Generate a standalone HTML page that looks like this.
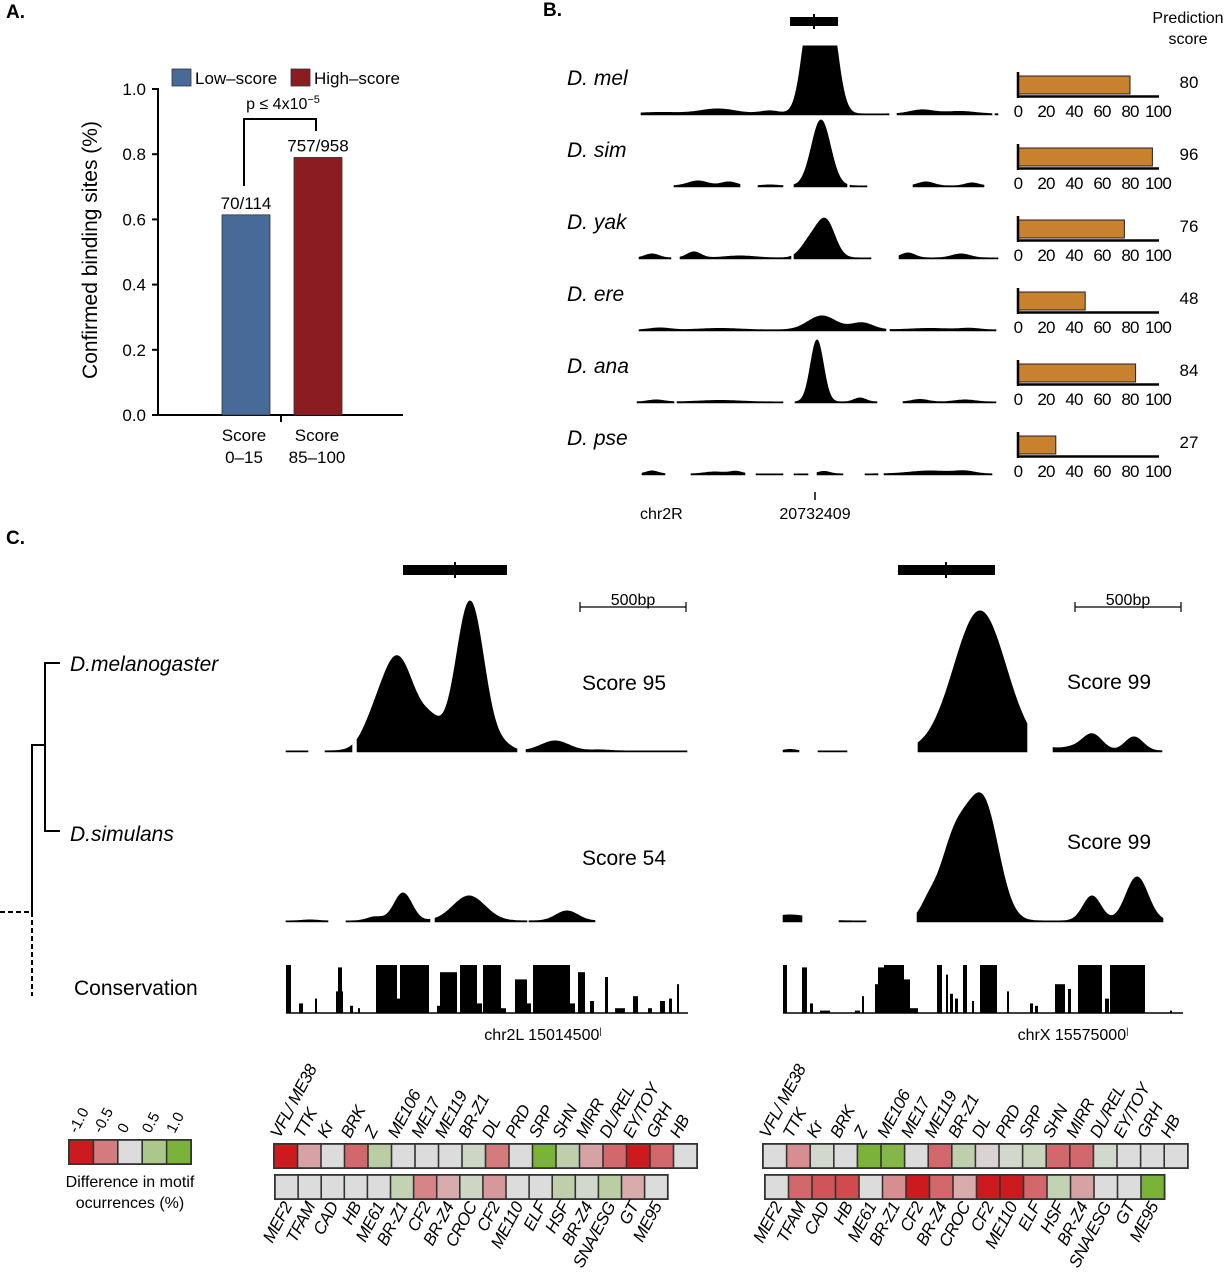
<!DOCTYPE html>
<html><head><meta charset="utf-8"><style>
html,body{margin:0;padding:0;background:#fff;}
svg{display:block;font-family:"Liberation Sans",Arial,sans-serif;}
</style></head><body>
<svg id="fig" width="1228" height="1280" viewBox="0 0 1228 1280" xmlns="http://www.w3.org/2000/svg">
<text x="6" y="18" font-size="19" font-weight="bold">A.</text>
<text x="543" y="16" font-size="19" font-weight="bold">B.</text>
<text x="6" y="544" font-size="19" font-weight="bold">C.</text>

<g id="panelA">
<line x1="158" y1="88" x2="158" y2="416" stroke="#000" stroke-width="2"/>
<line x1="157" y1="415" x2="403" y2="415" stroke="#000" stroke-width="2"/>
<line x1="281" y1="415" x2="281" y2="422" stroke="#000" stroke-width="2"/>
<text transform="translate(97,250) rotate(-90)" text-anchor="middle" font-size="21">Confirmed binding sites (%)</text>
<rect x="172" y="69" width="19" height="17" fill="#476a98" stroke="#333" stroke-width="0.8"/>
<text x="195" y="84" font-size="17">Low–score</text>
<rect x="291" y="69" width="19" height="17" fill="#8b1c22" stroke="#333" stroke-width="0.8"/>
<text x="314" y="84" font-size="17">High–score</text>
<text x="283" y="109" text-anchor="middle" font-size="16">p ≤ 4x10<tspan dy="-6" font-size="11">−5</tspan></text>
<path d="M244,186 V119 H316 V131" fill="none" stroke="#000" stroke-width="2"/>
<text x="244" y="441" text-anchor="middle" font-size="17">Score</text>
<text x="244" y="463" text-anchor="middle" font-size="17">0–15</text>
<text x="317" y="441" text-anchor="middle" font-size="17">Score</text>
<text x="317" y="463" text-anchor="middle" font-size="17">85–100</text>
</g>

<rect x="790" y="17" width="48" height="9" fill="#000"/>
<line x1="814" y1="14" x2="814" y2="29" stroke="#000" stroke-width="2"/>
<text x="1188" y="23" text-anchor="middle" font-size="16">Prediction</text>
<text x="1188" y="44" text-anchor="middle" font-size="16">score</text>
<line x1="815" y1="492" x2="815" y2="500" stroke="#000" stroke-width="1.5"/>
<text x="640" y="519" font-size="16">chr2R</text>
<text x="815" y="519" text-anchor="middle" font-size="16">20732409</text>

<rect x="403" y="565" width="104" height="10" fill="#000"/>
<line x1="455" y1="562" x2="455" y2="578" stroke="#000" stroke-width="2"/>
<rect x="898" y="565" width="97" height="10" fill="#000"/>
<line x1="946" y1="562" x2="946" y2="578" stroke="#000" stroke-width="2"/>
<g>
<path d="M580,607 H686 M580,602 V612 M686,602 V612" stroke="#000" stroke-width="1.2" fill="none"/>
<text x="633" y="605" text-anchor="middle" font-size="16">500bp</text></g>
<g>
<path d="M1075,607 H1181 M1075,602 V612 M1181,602 V612" stroke="#000" stroke-width="1.2" fill="none"/>
<text x="1128" y="605" text-anchor="middle" font-size="16">500bp</text></g>
<text x="624" y="690" text-anchor="middle" font-size="21">Score 95</text>
<text x="624" y="865" text-anchor="middle" font-size="21">Score 54</text>
<text x="1109" y="689" text-anchor="middle" font-size="21">Score 99</text>
<text x="1109" y="849" text-anchor="middle" font-size="21">Score 99</text>
<text x="543" y="1040" text-anchor="middle" font-size="16">chr2L 15014500<tspan dy="-6" font-size="9">|</tspan></text>
<text x="1073" y="1040" text-anchor="middle" font-size="16">chrX 15575000<tspan dy="-6" font-size="9">|</tspan></text>
<g stroke="#000" stroke-width="2" fill="none">
<path d="M60,663 H45 V831 H60"/>
<path d="M45,745 H32 V912"/>
<path d="M32,912 V996 M0,912 H32" stroke-dasharray="5,3"/>
</g>
<text x="70" y="671" font-size="21" font-style="italic">D.melanogaster</text>
<text x="70" y="841" font-size="21" font-style="italic">D.simulans</text>
<text x="74" y="995" font-size="21">Conservation</text>
<text x="130" y="1187" text-anchor="middle" font-size="16">Difference in motif</text>
<text x="130" y="1208" text-anchor="middle" font-size="16">ocurrences (%)</text>
<g id="dyn"></g>
</svg>
<script>
const barCategories = ['Score 0–15', 'Score 85–100'];
const barValues = [0.614, 0.790];
const barCounts = ['70/114', '757/958'];
const yTicks = [0.0, 0.2, 0.4, 0.6, 0.8, 1.0];
const barColors = ['#476a98', '#8b1c22'];

const speciesB = ['D. mel', 'D. sim', 'D. yak', 'D. ere', 'D. ana', 'D. pse'];
const predictionScores = [80, 96, 76, 48, 84, 27];
const scoreTicks = [0, 20, 40, 60, 80, 100];
const segMel = [[641,889],[897,992],[995,998]];
const segSim = [[674,740],[758,783],[794,847],[850,867],[913,984]];
const segYak = [[639,671],[680,791],[794,871],[899,998]];
const segEre = [[639,886],[890,996]];
const segAna = [[637,674],[677,783],[795,877],[903,996]];
const segPse = [[642,665],[691,745],[756,783],[794,808],[817,843],[865,878],[884,992]];
const pkMel = [[812,110,9],[828,110,9],[660,1.5,20],[718,5,18],[770,3,10],[922,4,12],[960,2.5,15]];
const pkSim = [[821,66,9.5],[698,5,10],[729,4,8],[770,1,8],[926,4,8],[972,3,7]];
const pkYak = [[826,36,9],[810,16,9],[652,4,7],[694,6,7],[740,2,15],[908,5,7],[961,4,9]];
const pkEre = [[822,14,14],[862,7,11],[660,2,10],[720,1.5,20],[930,1.5,20],[970,1.5,10]];
const pkAna = [[817,62,6.5],[860,4,6],[656,2,8],[720,1.5,20],[920,2.5,8],[965,2,10]];
const pkPse = [[652,3,6],[715,2,10],[736,2.5,6],[824,2.5,6],[930,3,20],[965,2.5,10]];
const trackSegsB = [segMel, segSim, segYak, segEre, segAna, segPse];
const trackPeaksB = [pkMel, pkSim, pkYak, pkEre, pkAna, pkPse];

const segCML = [[286,308],[325,352],[357,517],[526,687]];
const pkCML = [[397,95,18],[470,150,14],[432,20,10],[370,8,10],[505,4,8],[555,10,14],[600,1,10]];
const segCSL = [[286,328],[346,430],[435,527],[529,595]];
const pkCSL = [[403,28,9],[469,25,16],[375,4,8],[567,10,11],[310,1,8]];
const segCMR = [[783,799],[818,847],[918,1027],[1053,1162]];
const pkCMR = [[980,140,26],[1092,17,10],[1134,14,9],[1070,3,10],[790,1.5,6]];
const segCSR = [[783,802],[839,866],[917,1163]];
const pkCSR = [[984,112,15],[955,80,15],[928,12,8],[1092,25,9],[1137,44,11],[790,6,20]];
const consLeft = [[286,291,1],[299,303,0.2],[315,317,0.3],[336,343,0.45],[338,342,0.95],[350,353,0.15],[358,360,0.1],[376,397,1],[397,400,0.3],[400,429,1],[437,440,0.15],[440,457,0.85],[460,477,1],[477,482,0.2],[483,501,1],[501,506,0.1],[515,527,0.7],[527,531,0.2],[533,570,1],[570,575,0.2],[578,585,0.85],[590,594,0.25],[605,608,0.75],[615,625,0.1],[633,638,0.35],[648,652,0.1],[660,665,0.25],[669,672,0.3],[677,679,0.6]];
const consRight = [[783,787,1],[802,807,0.95],[810,813,0.2],[820,830,0.05],[855,860,0.05],[862,864,0.35],[875,878,0.6],[878,884,0.95],[884,890,1],[890,904,1],[904,910,0.7],[910,918,0.1],[937,942,1],[946,948,0.8],[950,953,0.4],[955,958,0.3],[963,967,1],[972,974,0.25],[980,997,1],[1007,1009,0.45],[1030,1033,0.2],[1035,1038,0.15],[1055,1065,0.6],[1068,1071,0.5],[1078,1102,1],[1105,1109,0.3],[1110,1145,1],[1170,1172,0.05]];

const topMotifs = ['VFL/ ME38','TTK','Kr','BRK','Z','ME106','ME17','ME119','BR-Z1','DL','PRD','SRP','SHN','MIRR','DL/REL','EY/TOY','GRH','HB'];
const bottomMotifs = ['MEF2','TFAM','CAD','HB','ME61','BR-Z1','CF2','BR-Z4','CROC','CF2','ME110','ELF','HSF','BR-Z4','SNA/ESG','GT','ME95'];
const leftTopValues = [-1,-0.3,0,-0.6,0.35,0,0,0,0.15,-0.5,0,1,0.3,-0.3,-0.6,-1,-0.6,0];
const leftBottomValues = [0,0,0,0,0,0.25,-0.45,-0.25,0.15,-0.35,0,0,0.3,0.1,0.35,-0.25,0];
const rightTopValues = [0,-0.4,0.1,0,1,0.9,0,-0.6,0.3,-0.05,0.1,0.2,-0.6,-0.6,0.1,0,0,0];
const rightBottomValues = [0,-0.6,-0.7,-0.75,0,-0.4,-1,-0.6,-0.25,-1,-1,-0.6,0.25,-0.3,0,0,1];
const legendValues = [-1,-0.5,0,0.5,1];
const legendLabels = ['-1.0','-0.5','0','0.5','1.0'];

const NS = 'http://www.w3.org/2000/svg';
const dyn = document.getElementById('dyn');
function mk(tag, attrs, parent) {
  const e = document.createElementNS(NS, tag);
  for (const k in attrs) e.setAttribute(k, attrs[k]);
  (parent || dyn).appendChild(e);
  return e;
}

const yA = v => 415 - 326 * v;
const xA = i => [222, 294][i];
yTicks.forEach(t => {
  const tk = mk('line', {x1:152, x2:158, y1:yA(t), y2:yA(t), stroke:'#000', 'stroke-width':2});
  
  
  const tl = mk('text', {x:146, y:yA(t)+6, 'text-anchor':'end', 'font-size':17});
  tl.textContent = t.toFixed(1);
  
  
});
barValues.forEach((v, i) => {
  const r = mk('rect', {x:xA(i), y:yA(v), width:48, height:415 - yA(v), fill:barColors[i], stroke:'#333', 'stroke-width':0.8});
  
  
  const t = mk('text', {x:xA(i) + 24, y:yA(v) - 6, 'text-anchor':'middle', 'font-size':17});
  t.textContent = barCounts[i];
  
  
});

function signal(peaks, x) {
  let s = 0;
  for (const p of peaks) s += p[1] * Math.exp(-0.5 * ((x - p[0]) / p[2]) ** 2);
  return s;
}
function drawTrack(segs, peaks, base, clip, name) {
  segs.forEach(sg => {
    let d = 'M' + sg[0] + ',' + base;
    for (let x = sg[0]; x <= sg[1]; x++) {
      let h = Math.min(clip, signal(peaks, x)) + 1.2;
      d += ' L' + x + ',' + (base - h).toFixed(1);
    }
    d += ' L' + sg[1] + ',' + base + ' Z';
    const p = mk('path', {d:d, fill:'#000', stroke:'#000', 'stroke-width':0.6});
    
    
  });
}

const xS = v => 1018 + 1.4 * v;
speciesB.forEach((sp, i) => {
  const off = i * 72;
  const lab = mk('text', {x:567, y:85 + off, 'font-size':21, 'font-style':'italic'});
  lab.textContent = sp;
  
  
  drawTrack(trackSegsB[i], trackPeaksB[i], 115 + off, 68, 'chip-signal-track');
  const bar = mk('rect', {x:1018, y:76 + off, width:xS(predictionScores[i]) - 1018, height:18, fill:'#c8812e', stroke:'#222', 'stroke-width':1});
  
  
  const ax = mk('path', {d:'M1018,' + (72 + off) + ' V' + (98 + off) + ' M1017,' + (96.5 + off) + ' H1159', stroke:'#000', 'stroke-width':2.5, fill:'none'});
  
  
  scoreTicks.forEach(t => {
    const tl = mk('text', {x:xS(t), y:117 + off, 'text-anchor':'middle', 'font-size':17, 'letter-spacing':'-0.8'});
    tl.textContent = t;
    
    
  });
  const val = mk('text', {x:1189, y:88 + off, 'text-anchor':'middle', 'font-size':17});
  val.textContent = predictionScores[i];
  
  
});

drawTrack(segCML, pkCML, 752, 200, 'mel-signal-left');
drawTrack(segCSL, pkCSL, 922, 200, 'sim-signal-left');
drawTrack(segCMR, pkCMR, 752, 200, 'mel-signal-right');
drawTrack(segCSR, pkCSR, 922, 200, 'sim-signal-right');
function drawCons(blocks, x0, x1, name) {
  const base = 1013;
  const ln = mk('line', {x1:x0, x2:x1, y1:base, y2:base, stroke:'#000', 'stroke-width':1.5});
  
  
  blocks.forEach(b => {
    const r = mk('rect', {x:b[0], y:base - 48 * b[2], width:b[1] - b[0], height:48 * b[2], fill:'#000'});
    
    
  });
}
drawCons(consLeft, 286, 688, 'conservation-left');
drawCons(consRight, 783, 1183, 'conservation-right');

function colorFor(v) {
  const neg = [204,26,31], zero = [220,220,220], pos = [122,178,58];
  const t = Math.abs(v), c = v < 0 ? neg : pos;
  const rgb = zero.map((z, k) => Math.round(z + (c[k] - z) * t));
  return 'rgb(' + rgb.join(',') + ')';
}
function drawRow(vals, x0, y0, cw, ch, name) {
  const fr = mk('rect', {x:x0 - 1, y:y0 - 1, width:cw * vals.length + 2, height:ch + 2, fill:'#333'});
  
  
  vals.forEach((v, i) => {
    const r = mk('rect', {x:x0 + i * cw + 0.8, y:y0 + 0.8, width:cw - 1.6, height:ch - 1.6, fill:colorFor(v)});
    
    
  });
}
function drawLabels(labels, x0, cw, y, top, name) {
  labels.forEach((l, i) => {
    const cx = x0 + i * cw + cw / 2;
    const t = mk('text', {
      x:0, y:0, 'font-size':17, 'font-style':'italic', 'letter-spacing':'-0.6',
      'text-anchor': top ? 'start' : 'end',
      transform: 'translate(' + (top ? cx - 6 : cx + 6) + ',' + y + ') rotate(-62)'
    });
    t.textContent = l;
    
    
  });
}
drawRow(leftTopValues, 274, 1144, 23.5, 24, 'heatmap-left-top');
drawRow(leftBottomValues, 275, 1175, 23.1, 24, 'heatmap-left-bottom');
drawRow(rightTopValues, 763, 1144, 23.6, 24, 'heatmap-right-top');
drawRow(rightBottomValues, 765, 1175, 23.5, 24, 'heatmap-right-bottom');
drawLabels(topMotifs, 274, 23.5, 1139, true, 'motif-label-top');
drawLabels(bottomMotifs, 275, 23.1, 1206, false, 'motif-label-bottom');
drawLabels(topMotifs, 763, 23.6, 1139, true, 'motif-label-top');
drawLabels(bottomMotifs, 765, 23.5, 1206, false, 'motif-label-bottom');
drawRow(legendValues, 69, 1140, 24.4, 24, 'heatmap-legend');
legendValues.forEach((v, i) => {
  const cx = 69 + i * 24.4 + 12;
  const t = mk('text', {x:0, y:0, 'font-size':15, transform:'translate(' + (cx - 4) + ',1134) rotate(-62)'});
  t.textContent = legendLabels[i];
  
  
});
</script>
</body></html>
